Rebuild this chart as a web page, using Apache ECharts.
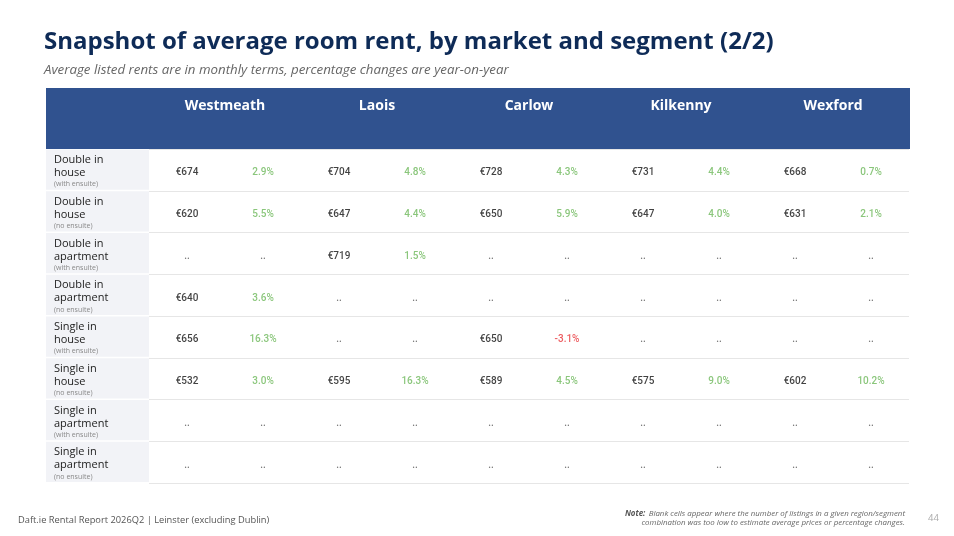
<!DOCTYPE html>
<html>
<head>
<meta charset="utf-8">
<script src="https://cdn.jsdelivr.net/npm/echarts@6/dist/echarts.min.js"></script>
<style>
html,body{margin:0;padding:0;background:#fff;}
#c{width:954px;height:536px;}
</style>
</head>
<body>
<div id="c"></div>
<script>
const markets = ['Westmeath', 'Laois', 'Carlow', 'Kilkenny', 'Wexford'];
const segType = ['Double in', 'Double in', 'Double in', 'Double in', 'Single in', 'Single in', 'Single in', 'Single in'];
const segPlace = ['house', 'house', 'apartment', 'apartment', 'house', 'house', 'apartment', 'apartment'];
const segNote = ['(with ensuite)', '(no ensuite)', '(with ensuite)', '(no ensuite)', '(with ensuite)', '(no ensuite)', '(with ensuite)', '(no ensuite)'];

const rentWestmeath = [674, 620, null, 640, 656, 532, null, null];
const pctWestmeath  = [2.9, 5.5, null, 3.6, 16.3, 3.0, null, null];
const rentLaois     = [704, 647, 719, null, null, 595, null, null];
const pctLaois      = [4.8, 4.4, 1.5, null, null, 16.3, null, null];
const rentCarlow    = [728, 650, null, null, 650, 589, null, null];
const pctCarlow     = [4.3, 5.9, null, null, -3.1, 4.5, null, null];
const rentKilkenny  = [731, 647, null, null, null, 575, null, null];
const pctKilkenny   = [4.4, 4.0, null, null, null, 9.0, null, null];
const rentWexford   = [668, 631, null, null, null, 602, null, null];
const pctWexford    = [0.7, 2.1, null, null, null, 10.2, null, null];

const rents = [rentWestmeath, rentLaois, rentCarlow, rentKilkenny, rentWexford];
const pcts = [pctWestmeath, pctLaois, pctCarlow, pctKilkenny, pctWexford];

const subCols = [];
markets.forEach(m => { subCols.push(m + ' rent'); subCols.push(m + ' change'); });
const rowIdx = segType.map((_, i) => i);

const cellData = [];
markets.forEach((m, mi) => {
  rowIdx.forEach(r => {
    const rv = rents[mi][r];
    cellData.push({
      value: [mi * 2, r],
      label: { formatter: rv == null ? '..' : '€' + rv, color: rv == null ? '#555' : '#111' }
    });
    const pv = pcts[mi][r];
    cellData.push({
      value: [mi * 2 + 1, r],
      label: {
        formatter: pv == null ? '..' : pv.toFixed(1) + '%',
        color: pv == null ? '#555' : (pv < 0 ? '#E8353A' : '#6DB85A')
      }
    });
  });
});

const chart = echarts.init(document.getElementById('c'), null, { renderer: 'canvas' });
chart.setOption({
  backgroundColor: '#ffffff',
  animation: false,
  graphic: [
    { type: 'rect', left: 46, top: 88, z: 0, shape: { width: 864, height: 61 }, style: { fill: '#30528F' } },
    { type: 'text', left: 44, top: 30, style: { text: 'Snapshot of average room rent, by market and segment (2/2)', font: 'bold 24px "Open Sans"', fill: '#0E2B57' } },
    { type: 'text', left: 44, top: 64, style: { text: 'Average listed rents are in monthly terms, percentage changes are year-on-year', font: 'italic 13.3px "Open Sans"', fill: '#666' } },
    { type: 'text', left: 18, top: 516, style: { text: 'Daft.ie Rental Report 2026Q2 | Leinster (excluding Dublin)', font: '9.3px "Open Sans"', fill: '#555' } },
    { type: 'text', right: 49, top: 508, style: { rich: { b: { font: 'bold italic 7.9px "Open Sans"', fill: '#555' }, n: { font: 'italic 7.9px "Open Sans"', fill: '#666' } }, text: '{b|Note:} {n|Blank cells appear where the number of listings in a given region/segment}', align: 'right' } },
    { type: 'text', right: 49, top: 519, style: { text: 'combination was too low to estimate average prices or percentage changes.', font: 'italic 7.9px "Open Sans"', fill: '#666', align: 'right' } },
    { type: 'text', left: 928, top: 513, style: { text: '44', font: '9.5px "Open Sans"', fill: '#aaa' } }
  ],
  grid: { left: 149, right: 45, top: 149, bottom: 53, containLabel: false },
  xAxis: [
    { type: 'category', data: subCols, axisLine: { show: false }, axisTick: { show: false }, axisLabel: { show: false }, splitLine: { show: false } },
    { type: 'category', data: markets, position: 'top', axisLine: { show: false }, axisTick: { show: false }, splitLine: { show: false }, z: 10,
      axisLabel: { color: '#fff', fontFamily: 'Open Sans', fontWeight: 'bold', fontSize: 14, margin: 36 } }
  ],
  yAxis: {
    type: 'category', inverse: true, data: rowIdx, z: 10,
    axisLine: { show: false }, axisTick: { show: false },
    splitLine: { show: true, lineStyle: { color: '#e6e6e6', width: 1 } },
    axisLabel: {
      margin: 95, align: 'left', interval: 0, padding: [3, 0, 0, 0],
      formatter: i => '{a|' + segType[i] + '}\n{a|' + segPlace[i] + '}\n{s|' + segNote[i] + '}',
      rich: {
        a: { fontFamily: 'Open Sans', fontSize: 11, color: '#222', lineHeight: 13 },
        s: { fontFamily: 'Open Sans', fontSize: 7, color: '#888', lineHeight: 10 }
      }
    }
  },
  series: [
    {
      type: 'custom', xAxisIndex: 0, yAxisIndex: 0, z: 1, silent: true,
      data: rowIdx.map(r => [0, r]),
      renderItem: (params, api) => {
        const p = api.coord([0, api.value(1)]);
        const s = api.size([1, 1]);
        const gl = p[0] - s[0] / 2;
        return { type: 'rect', z2: -10, shape: { x: gl - 103, y: p[1] - s[1] / 2 + 0.5, width: 103, height: s[1] - 1.5 }, style: { fill: '#F2F3F7' } };
      }
    },
    {
      type: 'scatter', xAxisIndex: 0, yAxisIndex: 0, symbolSize: 0, silent: true, z: 3,
      label: { show: true, position: 'inside', fontFamily: 'Roboto', fontWeight: 500, fontSize: 10, offset: [0, 3] },
      data: cellData
    }
  ]
});
</script>
</body>
</html>
